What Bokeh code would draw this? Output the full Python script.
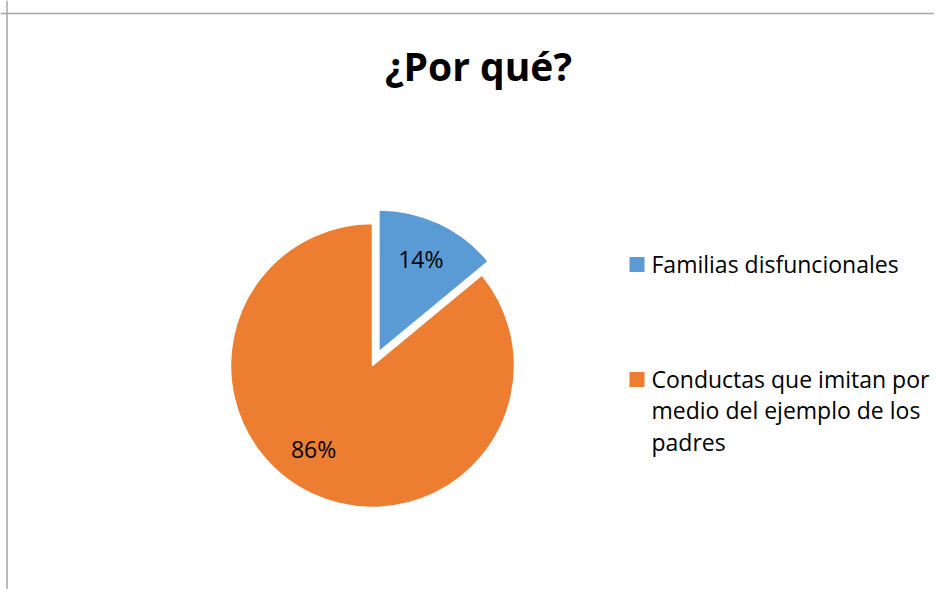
import math
from bokeh.plotting import figure
from bokeh.models import Range1d, ColumnDataSource, Span
from bokeh.core.properties import value
from bokeh.embed import file_html
from bokeh.resources import INLINE

# ---- data ----
title = "¿Por qué?"
categories = ["Familias disfuncionales",
              "Conductas que imitan por medio del ejemplo de los padres"]
legend_lines = [["Familias disfuncionales"],
                ["Conductas que imitan por", "medio del ejemplo de los", "padres"]]
percentages = [14, 86]
colors = ["#5B9BD5", "#ED7D31"]

# ---- layout (picture pixel coordinates; data y = H - pixel y) ----
W, H = 934, 589
def Y(py):
    return H - py

FONT = "Open Sans"
cx, cy, r = 372, Y(365), 142
explode = [15, 0]
label_frac = 0.72
label_shift = [1, -10]  # degrees

p = figure(width=W, height=H, x_range=Range1d(0, W), y_range=Range1d(0, H),
           output_backend="svg", toolbar_location=None, min_border=0,
           background_fill_color="white", border_fill_color="white")
p.axis.visible = False
p.grid.visible = False
p.outline_line_color = None

# frame lines
p.add_layout(Span(location=Y(13), dimension="width", line_color="#a6a6a6", line_width=1.5))
p.add_layout(Span(location=6.5, dimension="height", line_color="#a6a6a6", line_width=1.5))

# pie slices
total = sum(percentages)
xs, ys, starts, ends, lx, ly, labels = [], [], [], [], [], [], []
a0 = 90.0
for i, v in enumerate(percentages):
    sweep = v / total * 360.0
    a1 = a0 - sweep
    mid = math.radians((a0 + a1) / 2)
    ox = cx + explode[i] * math.cos(mid)
    oy = cy + explode[i] * math.sin(mid)
    xs.append(ox); ys.append(oy)
    starts.append(math.radians(a1)); ends.append(math.radians(a0))
    lm = mid + math.radians(label_shift[i])
    lx.append(ox + label_frac * r * math.cos(lm))
    ly.append(oy + label_frac * r * math.sin(lm))
    labels.append(f"{v}%")
    a0 = a1

src = ColumnDataSource(dict(x=xs, y=ys, start=starts, end=ends, color=colors,
                            lx=lx, ly=ly, label=labels))
p.wedge(x="x", y="y", radius=r, start_angle="start", end_angle="end",
        fill_color="color", line_color="white", line_width=1.5, source=src)
p.text(x="lx", y="ly", text="label", source=src, text_font=value(FONT),
       text_font_size="23px", text_color="#000000", text_align="center",
       text_baseline="middle")

# title
p.text(x=[478], y=[Y(65)], text=[title], text_font=value(FONT), text_font_style="bold",
       text_font_size="39px", text_color="#000000", text_align="center",
       text_baseline="middle")

# legend
leg_top = [264, 379]
line_gap = 31.5
sq_x, txt_x = 636.5, 651
sq = dict(x=[], y=[], c=[])
tl = dict(x=[], y=[], t=[])
for i, lines in enumerate(legend_lines):
    sq["x"].append(sq_x); sq["y"].append(Y(leg_top[i])); sq["c"].append(colors[i])
    for j, ln in enumerate(lines):
        tl["x"].append(txt_x)
        tl["y"].append(Y(leg_top[i] - 1 + j * line_gap))
        tl["t"].append(ln)
p.rect(x="x", y="y", width=15, height=15, fill_color="c", line_color=None,
       source=ColumnDataSource(sq))
p.text(x="x", y="y", text="t", source=ColumnDataSource(tl), text_font=value(FONT),
       text_font_size="23px", text_color="#000000", text_align="left",
       text_baseline="middle")

open("out.html", "w").write(file_html(p, INLINE))
